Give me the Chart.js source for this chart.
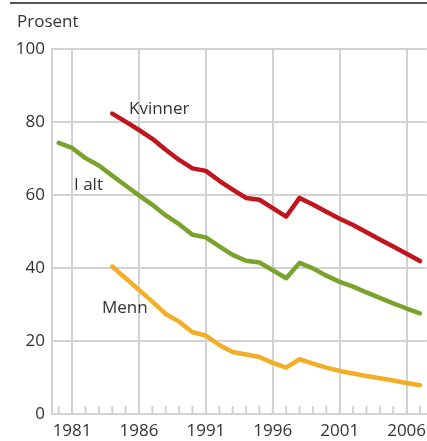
<!DOCTYPE html>
<html>
<head>
<meta charset="utf-8">
<script src="https://cdn.jsdelivr.net/npm/chart.js@4"></script>
<style>
    html, body { margin: 0; padding: 0; background: #fff; }
    #wrap { position: relative; width: 427px; height: 441px; font-family: 'Open Sans', sans-serif; color: #333; }
    #wrap canvas { position: absolute; top: 0; left: 0; }
    .rule { position: absolute; left: 10px; right: 0; top: 2px; height: 1.5px; background: #555; }
    .txt { position: absolute; font-size: 17px; line-height: 20px; white-space: nowrap; }
</style>
</head>
<body>
<div id="wrap">
    <canvas id="chart" width="427" height="441"></canvas>
    <div class="rule"></div>
    <div class="txt" style="left:17px; top:11px;">Prosent</div>
    <div class="txt" style="left:129px; top:98px;">Kvinner</div>
    <div class="txt" style="left:74px; top:174px;">I alt</div>
    <div class="txt" style="left:102px; top:297px;">Menn</div>
</div>
<script>
const years = [1980, 1981, 1982, 1983, 1984, 1985, 1986, 1987, 1988, 1989, 1990, 1991, 1992, 1993,
    1994, 1995, 1996, 1997, 1998, 1999, 2000, 2001, 2002, 2003, 2004, 2005, 2006, 2007];

const iAlt = [74.3, 72.9, 70.1, 68.1, 65.3, 62.6, 59.9, 57.3, 54.4, 52.0, 49.1, 48.4, 45.9, 43.6,
    42.0, 41.5, 39.4, 37.2, 41.4, 39.9, 37.9, 36.2, 34.9, 33.3, 31.8, 30.3, 28.9, 27.6];

const kvinner = [null, null, null, null, 82.3, 80.1, 77.8, 75.4, 72.4, 69.6, 67.3, 66.6, 63.9, 61.5,
    59.2, 58.7, 56.4, 54.1, 59.2, 57.4, 55.4, 53.5, 51.8, 49.8, 47.8, 45.9, 43.9, 41.9];

const menn = [null, null, null, null, 40.4, 37.2, 34.0, 30.8, 27.4, 25.3, 22.4, 21.5, 18.9, 17.0,
    16.3, 15.6, 14.0, 12.7, 15.0, 13.8, 12.7, 11.8, 11.1, 10.4, 9.8, 9.2, 8.5, 7.9];

const yTicks = [0, 20, 40, 60, 80, 100];

const gridGray = '#d2d2d2';

// small year ticks pointing up from the x axis
const minorTicks = {
    id: 'minorTicks',
    afterDatasetsDraw(chart) {
        const x = chart.scales.x;
        const bottom = chart.chartArea.bottom;
        const ctx = chart.ctx;
        ctx.save();
        ctx.strokeStyle = gridGray;
        ctx.lineWidth = 2;
        x.ticks.forEach((t, i) => {
            const px = x.getPixelForTick(i);
            ctx.beginPath();
            ctx.moveTo(px, bottom - 8);
            ctx.lineTo(px, bottom);
            ctx.stroke();
        });
        ctx.restore();
    }
};

const line = (data, color) => ({
    data,
    borderColor: color,
    borderWidth: 4.5,
    tension: 0,
    pointRadius: 0,
    borderJoinStyle: 'round',
    borderCapStyle: 'round',
    fill: false,
    spanGaps: false,
});

new Chart(document.getElementById('chart'), {
    type: 'line',
    data: {
        labels: years.map(String),
        datasets: [
            line(kvinner, '#c0141f'),
            line(iAlt, '#7aa32e'),
            line(menn, '#f2ae27'),
        ],
    },
    options: {
        responsive: false,
        animation: false,
        layout: { padding: { top: 49, right: 0, left: 0, bottom: 0 } },
        plugins: { legend: { display: false }, tooltip: { enabled: false } },
        scales: {
            x: {
                type: 'category',
                offset: true,
                grid: {
                    offset: false,
                    drawTicks: false,
                    lineWidth: 2,
                    color: (c) => (years[c.index] % 5 === 1 ? gridGray : 'rgba(0,0,0,0)'),
                },
                border: { color: gridGray, width: 2 },
                ticks: {
                    autoSkip: false,
                    maxRotation: 0,
                    padding: 7,
                    color: '#333',
                    font: { family: 'Open Sans', size: 17 },
                    callback: (v, i) => (years[i] % 5 === 1 ? String(years[i]) : ''),
                },
                afterFit: (a) => { a.height = 27; },
            },
            y: {
                min: 0,
                max: 100,
                afterBuildTicks: (a) => { a.ticks = yTicks.map((v) => ({ value: v })); },
                grid: { drawTicks: false, lineWidth: 2, color: gridGray },
                border: { color: gridGray, width: 2 },
                ticks: {
                    padding: 7,
                    color: '#333',
                    font: { family: 'Open Sans', size: 17 },
                },
                afterFit: (a) => { a.width = 52; },
            },
        },
    },
    plugins: [minorTicks],
});
</script>
</body>
</html>
